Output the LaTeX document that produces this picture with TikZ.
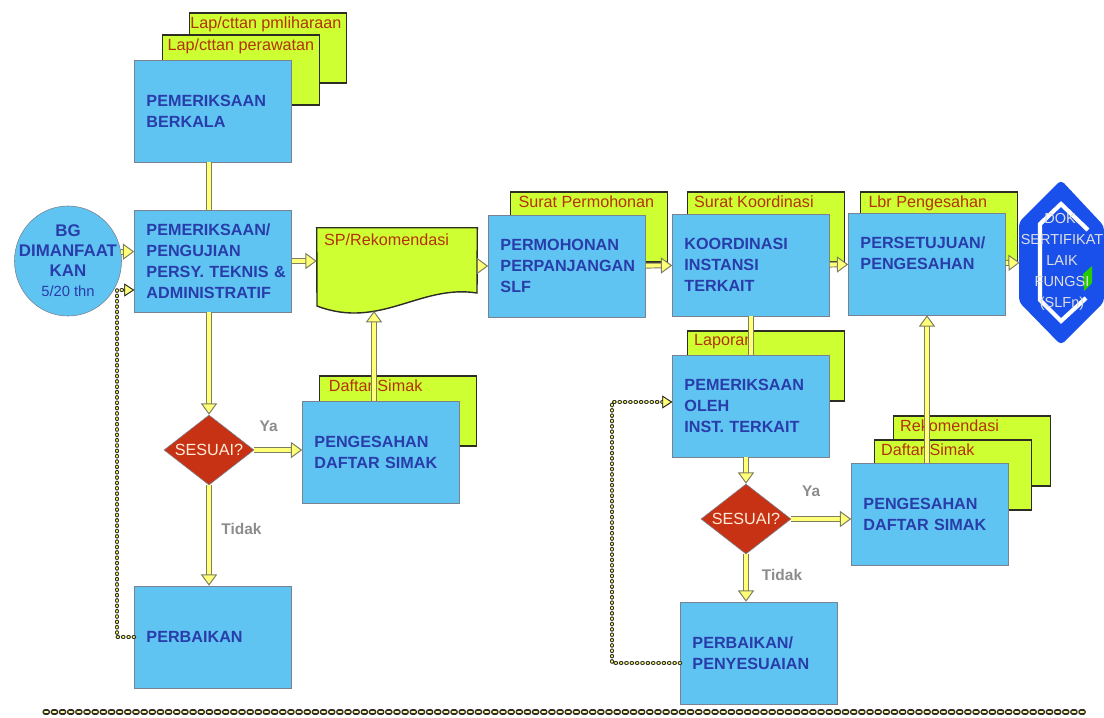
\documentclass[tikz,border=0pt]{standalone}
\usepackage{fontspec}
\setmainfont{Liberation Sans}
\usetikzlibrary{shapes.geometric,arrows.meta}

\definecolor{boxblue}{RGB}{96,196,242}
\definecolor{boxline}{RGB}{120,130,145}
\definecolor{docgreen}{RGB}{206,255,51}
\definecolor{docline}{RGB}{45,45,35}
\definecolor{txtblue}{RGB}{40,60,170}
\definecolor{txtred}{RGB}{180,50,10}
\definecolor{flowyel}{RGB}{255,255,120}
\definecolor{flowline}{RGB}{125,125,95}
\definecolor{decred}{RGB}{200,50,20}
\definecolor{logoblue}{RGB}{25,80,235}

\tikzset{
  box/.style={rectangle, draw=boxline, fill=boxblue, text width=3.325cm, inner xsep=0.3cm,
    minimum height=2.55cm, align=left, text=txtblue,
    font=\fontsize{11.5}{15}\selectfont\bfseries},
  doc/.style={rectangle, draw=docline, line width=1pt, fill=docgreen,
    minimum width=3.925cm, minimum height=1.75cm},
  doctext/.style={anchor=north west, inner sep=0pt, text=txtred,
    font=\fontsize{11.5}{14}\selectfont},
  decision/.style={diamond, aspect=1.3, draw=boxline, fill=decred, inner sep=0pt,
    minimum width=2.25cm, minimum height=1.75cm, text=white!85!orange,
    font=\fontsize{11.5}{14}\selectfont},
  lbl/.style={inner sep=0pt, text=black!45, font=\fontsize{11}{13}\selectfont\bfseries},
  flow/.style={draw=flowyel, line width=2.8pt,
    -{Triangle[length=8pt,width=11.5pt,color=flowline,fill=flowyel,line width=0.7pt]},
    preaction={-, draw=flowline, line width=4.2pt, shorten >=6pt}},
  link/.style={draw=flowyel, line width=2.8pt, preaction={draw=flowline, line width=4.2pt}},
  chain/.style={draw=docline, line width=2.9pt, line cap=round, dash pattern=on 0.4pt off 3.4pt,
    -{Triangle[length=7pt,width=9pt,color=docline,fill=flowyel,line width=0.6pt]},
    postaction={draw=flowyel, line width=1.5pt}},
  chainwide/.style={draw=docline, line width=3.6pt, line cap=round, dash pattern=on 1.8pt off 4pt,
    postaction={draw=flowyel!60!white, line width=2pt}}
}

\begin{document}
\begin{tikzpicture}[x=0.025cm, y=-0.025cm]
\useasboundingbox (0,0) rectangle (1104,717);

% left column
\node[doc] (pmli) at (268,48) {};
\node[doctext] (t-pmli) at ([xshift=1pt,yshift=-3pt]pmli.north west) {Lap/cttan pmliharaan};
\node[doc] (rawat) at (241,70) {};
\node[doctext] (t-rawat) at ([xshift=4pt,yshift=-3pt]rawat.north west) {Lap/cttan perawatan};
\node[box] (berkala) at (213,111) {PEMERIKSAAN\\BERKALA};

\node[ellipse, draw=boxline, fill=boxblue, minimum width=2.675cm, minimum height=2.75cm,
  inner sep=0pt] (bg) at (68,261) {};
\node[align=center, inner sep=0pt, text=txtblue, font=\fontsize{12}{14.2}\selectfont\bfseries]
  (bgtext) at (68,261) {BG\\DIMANFAAT\\KAN\\\mdseries\fontsize{10.5}{13}\selectfont 5/20 thn};
\node[box] (periksa) at (213,261) {PEMERIKSAAN/\\PENGUJIAN\\\mbox{PERSY. TEKNIS \&}\\ADMINISTRATIF};
\node[decision] (dia1) at (209,450) {SESUAI?};
\node[box] (perb) at (213,637) {PERBAIKAN};

\node[doc] (daftar1) at (398,411) {};
\node[doctext] (t-daftar1) at ([xshift=7pt,yshift=-3pt]daftar1.north west) {Daftar Simak};
\node[box] (peng1) at (381,452) {PENGESAHAN\\\mbox{DAFTAR SIMAK}};

% SP / rekomendasi
\node[minimum width=4cm, minimum height=2.1cm, inner sep=0pt] (sp) at (397,270) {};
\draw[docline, line width=1pt, fill=docgreen] (sp.north west) -- (sp.north east) -- (477,293)
  .. controls (420,284) and (380,330) .. (317,306) -- cycle;
\node[doctext] (t-sp) at ([xshift=5pt,yshift=-4pt]sp.north west) {SP/Rekomendasi};
\coordinate (spbot) at (374,311);

% top row
\node[doc] (surat1) at (589,227) {};
\node[doctext] (t-surat1) at ([xshift=6pt,yshift=-3pt]surat1.north west) {Surat Permohonan};
\node[box] (mohon) at (567,266) {PERMOHONAN\\PERPANJANGAN\\SLF};
\node[doc] (surat2) at (766,227) {};
\node[doctext] (t-surat2) at ([xshift=5pt,yshift=-3pt]surat2.north west) {Surat Koordinasi};
\node[box] (koord) at (751,265) {KOORDINASI\\INSTANSI\\TERKAIT};
\node[doc] (lbr) at (939,227) {};
\node[doctext] (t-lbr) at ([xshift=6pt,yshift=-3pt]lbr.north west) {Lbr Pengesahan};
\node[box] (setuju) at (927,264) {PERSETUJUAN/\\PENGESAHAN\\\mbox{}};

% logo
\node[minimum width=2.1cm, minimum height=4.1cm, inner sep=0pt] (logo) at (1062,262) {};
\fill[logoblue, rounded corners=3pt] (1061,180) -- (1104,226) -- (1104,302) -- (1061,345)
  -- (1019,302) -- (1019,222) -- cycle;
\draw[white, line width=3pt] (1088,230) -- (1061,204) -- (1040,224) -- (1040,300)
  -- (1061,321) -- (1086,298);
\fill[green!75!black!80!lime] (1083,274) -- (1092,266) -- (1092,283) -- (1084,291) -- cycle;
\node[align=center, inner sep=0pt, text=white!75!gray, font=\fontsize{10.3}{15}\selectfont]
  (slf) at (1062,262) {DOK.\\SERTIFIKAT\\LAIK\\FUNGSI\\(SLFn)};

% right lower part
\node[doc] (lapor) at (766,366) {};
\node[doctext] (t-lapor) at ([xshift=5pt,yshift=-3pt]lapor.north west) {Laporan};
\node[box] (oleh) at (751,406) {PEMERIKSAAN\\OLEH\\\mbox{INST. TERKAIT}};
\node[decision] (dia2) at (746,519) {SESUAI?};
\node[box] (perb2) at (759,653) {PERBAIKAN/\\PENYESUAIAN};

\node[doc] (rekom) at (972,451) {};
\node[doctext] (t-rekom) at ([xshift=5pt,yshift=-3pt]rekom.north west) {Rekomendasi};
\node[doc] (daftar2) at (953,475) {};
\node[doctext] (t-daftar2) at ([xshift=5pt,yshift=-3pt]daftar2.north west) {Daftar Simak};
\node[box] (peng2) at (930,514) {PENGESAHAN\\\mbox{DAFTAR SIMAK}};

% connectors
\draw[link] (berkala.south -| dia1) -- (periksa.north -| dia1);
\draw[flow] (bg.10) -- (bg.10 -| periksa.west);
\draw[flow] (periksa) -- (periksa -| sp.west);
\draw[flow] (dia1 |- periksa.south) -- (dia1.north);
\draw[flow] (dia1.east) -- (dia1 -| peng1.west) node[lbl, pos=0.3, above=0.42cm] (ya1) {Ya};
\draw[flow] (dia1.south) -- (dia1 |- perb.north) node[lbl, pos=0.43, right=0.26cm] (tidak1) {Tidak};
\draw[flow] (peng1.north -| spbot) -- (spbot);
\draw[flow] (sp.east |- mohon) -- (mohon);
\draw[flow] (mohon) -- (koord);
\draw[flow] (koord) -- (setuju);
\draw[flow] (setuju) -- (logo);
\draw[link] (koord) -- (oleh);
\draw[flow] (dia2 |- oleh.south) -- (dia2.north);
\draw[flow] (dia2.east) -- (dia2 -| peng2.west) node[lbl, pos=0.33, above=0.52cm] (ya2) {Ya};
\draw[flow] (dia2.south) -- (dia2 |- perb2.north) node[lbl, pos=0.44, right=0.35cm] (tidak2) {Tidak};
\draw[flow] (peng2.north -| setuju.south) -- (setuju.south);

% dotted return loops
\coordinate (loop1) at (117,290);
\coordinate (loop2) at (612,402);
\draw[chain] (perb.west) -| (loop1) -- (loop1 -| periksa.west);
\draw[chain] (perb2.west |- 0,663) -| (loop2) -- (loop2 -| oleh.west);

% bottom rule
\coordinate (rule-l) at (45,712);
\coordinate (rule-r) at (1088,712);
\draw[chainwide] (rule-l) -- (rule-r);
\end{tikzpicture}
\end{document}
